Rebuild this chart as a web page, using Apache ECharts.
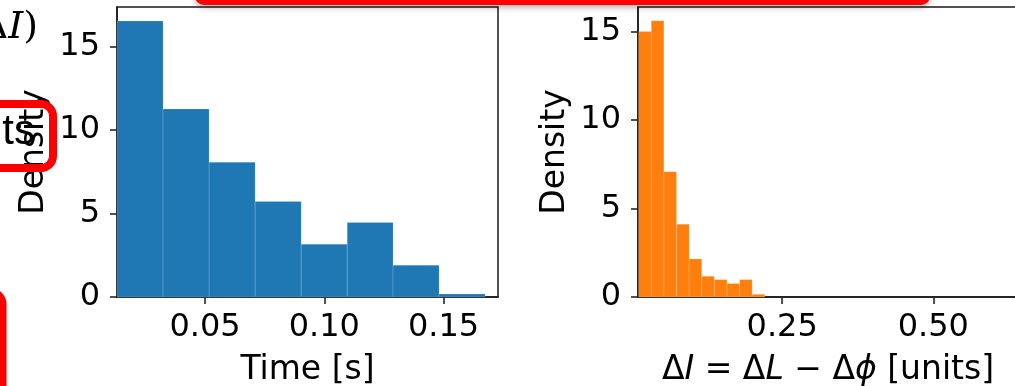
<!DOCTYPE html>
<html>
<head>
<meta charset="utf-8">
<script src="https://cdn.jsdelivr.net/npm/echarts@6/dist/echarts.min.js"></script>
<style>
html,body{margin:0;padding:0;background:#fff;overflow:hidden;}
#c{width:1020px;height:386px;}
</style>
</head>
<body>
<div id="c"></div>
<script>
// ---- data ----
const timeBinEdges = [0.0131, 0.0324, 0.0517, 0.0710, 0.0903, 0.1096, 0.1288, 0.1481, 0.1674];
const timeDensity  = [16.52, 11.26, 8.06, 5.72, 3.16, 4.46, 1.90, 0.18];
const dIBinEdges   = [0.0127, 0.0336, 0.0544, 0.0753, 0.0961, 0.1170, 0.1379, 0.1587, 0.1796, 0.2004, 0.2213];
const dIDensity    = [15.0, 15.6, 7.07, 4.11, 2.15, 1.17, 0.98, 0.76, 0.98, 0.15];
const timeTicks    = [0.05, 0.10, 0.15];
const dITicks      = [0.25, 0.50];
const densityTicks = [0, 5, 10, 15];

function toBins(edges, dens) {
  return dens.map((d, i) => [edges[i], edges[i + 1], d]);
}

const FONT = 'DejaVu Sans';
const AX = '#1a1a1a';

function histRender(color) {
  return function (params, api) {
    const p0 = api.coord([api.value(0), 0]);
    const p1 = api.coord([api.value(1), api.value(2)]);
    return {
      type: 'rect',
      shape: { x: p0[0], y: p1[1], width: p1[0] - p0[0], height: p0[1] - p1[1] },
      style: { fill: color, stroke: 'rgba(255,255,255,0.22)', lineWidth: 0.7 }
    };
  };
}

function xAxisCfg(idx, min, max, ticks, name, extraName) {
  return Object.assign({
    type: 'value', gridIndex: idx, min: min, max: max,
    splitLine: { show: false },
    axisLine: { show: true, onZero: false, lineStyle: { color: AX, width: 1.5 } },
    axisTick: { show: true, inside: false, length: 7, lineStyle: { color: AX, width: 1.5 }, customValues: ticks },
    axisLabel: { show: true, margin: 15, fontFamily: FONT, fontSize: 32, color: '#000',
      customValues: ticks, formatter: v => v.toFixed(2) },
    name: name, nameLocation: 'middle', nameGap: 57,
    nameTextStyle: { fontFamily: FONT, fontSize: 33, color: '#000' }
  }, extraName || {});
}

function yAxisCfg(idx, max) {
  return {
    type: 'value', gridIndex: idx, min: 0, max: max,
    splitLine: { show: false },
    axisLine: { show: true, onZero: false, lineStyle: { color: AX, width: 1.5 } },
    axisTick: { show: true, inside: false, length: 7, lineStyle: { color: AX, width: 1.5 }, customValues: densityTicks },
    axisLabel: { show: true, margin: 17, fontFamily: FONT, fontSize: 32, color: '#000', customValues: densityTicks },
    name: 'Density', nameLocation: 'middle', nameGap: 66, nameRotate: 90,
    nameTextStyle: { fontFamily: FONT, fontSize: 33, color: '#000' }
  };
}

const chart = echarts.init(document.getElementById('c'), null, { renderer: 'canvas' });
chart.setOption({
  animation: false,
  backgroundColor: '#fff',
  grid: [
    { left: 117, top: 7, width: 381, height: 290, outerBoundsMode: 'none', containLabel: false,
      show: true, borderColor: AX, borderWidth: 1.5, backgroundColor: 'transparent' },
    { left: 638, top: 7, width: 380, height: 290, outerBoundsMode: 'none', containLabel: false,
      show: true, borderColor: AX, borderWidth: 1.5, backgroundColor: 'transparent' }
  ],
  xAxis: [
    xAxisCfg(0, 0.0131, 0.1728, timeTicks, 'Time [s]'),
    xAxisCfg(1, 0.0116, 0.640, dITicks,
      '{n|Δ}{i|I}{n| = Δ}{i|L}{n| − Δ}{i|ϕ}{n| [units]}',
      { nameTextStyle: { fontFamily: FONT, fontSize: 33, color: '#000',
          rich: { n: { fontFamily: FONT, fontSize: 33, color: '#000' },
                  i: { fontFamily: FONT, fontSize: 33, color: '#000', fontStyle: 'italic' } } } })
  ],
  yAxis: [ yAxisCfg(0, 17.36), yAxisCfg(1, 16.38) ],
  series: [
    { type: 'custom', xAxisIndex: 0, yAxisIndex: 0, renderItem: histRender('#1f77b4'),
      encode: { x: [0, 1], y: 2 }, data: toBins(timeBinEdges, timeDensity) },
    { type: 'custom', xAxisIndex: 1, yAxisIndex: 1, renderItem: histRender('#ff7f0e'),
      encode: { x: [0, 1], y: 2 }, data: toBins(dIBinEdges, dIDensity) }
  ],
  graphic: [
    // top red annotation bar
    { type: 'rect', z: 100, shape: { x: 195, y: -40, width: 735, height: 45, r: 9 },
      style: { fill: '#ff0000', shadowBlur: 6, shadowColor: 'rgba(0,0,0,0.35)', shadowOffsetY: 2 } },
    // red box around "ts"
    { type: 'rect', z: 100, shape: { x: -60, y: 104, width: 113, height: 64, r: 12 },
      style: { fill: 'none', stroke: '#ff0000', lineWidth: 8 } },
    { type: 'text', z: 101, style: { x: 35, y: 132, text: 'ts', fontFamily: 'Liberation Sans', fontSize: 42,
      fill: '#000', align: 'right', verticalAlign: 'middle' } },
    // bottom-left red box edge
    { type: 'rect', z: 100, shape: { x: -120, y: 292, width: 123, height: 200, r: 12 },
      style: { fill: 'none', stroke: '#ff0000', lineWidth: 7 } },
    // partial text at top-left
    { type: 'text', z: 101, style: { x: 38, y: 28,
      text: '{n|Δ}{i|I}{n|)}', align: 'right', verticalAlign: 'middle',
      rich: { n: { fontFamily: 'DejaVu Serif', fontSize: 38, fill: '#000' },
              i: { fontFamily: 'DejaVu Serif', fontSize: 38, fontStyle: 'italic', fill: '#000' } } } }
  ]
});
</script>
</body>
</html>
